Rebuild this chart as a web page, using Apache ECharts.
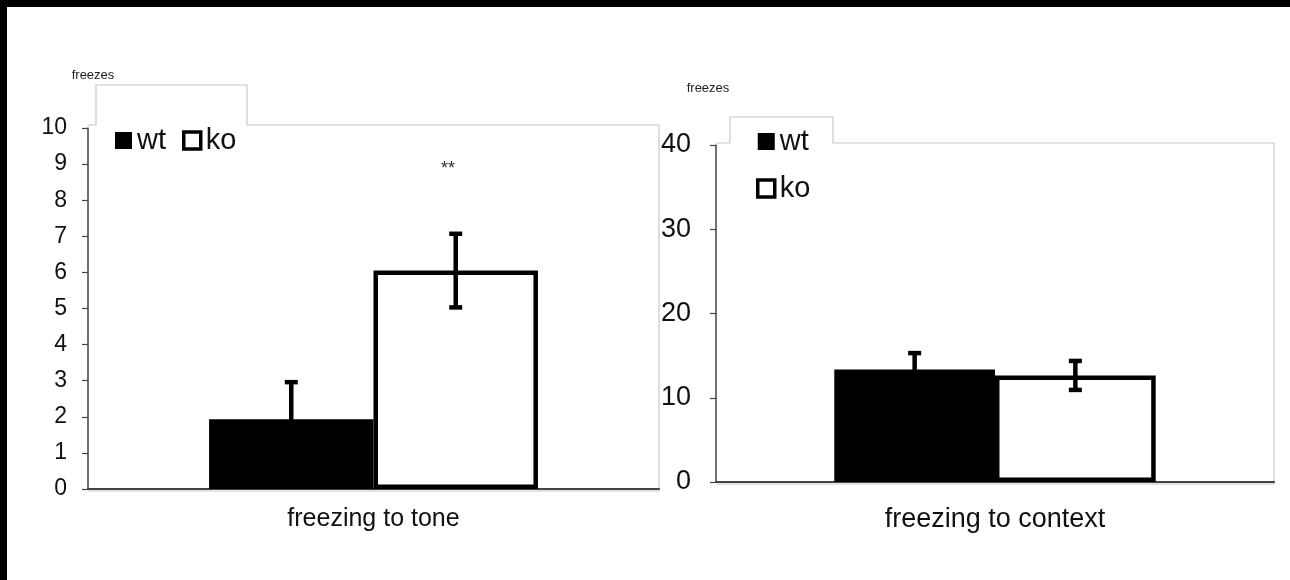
<!DOCTYPE html>
<html>
<head>
<meta charset="utf-8">
<script src="https://cdn.jsdelivr.net/npm/echarts@6/dist/echarts.min.js"></script>
<style>
html,body{margin:0;padding:0;background:#fff;overflow:hidden;}
#chart{position:absolute;left:0;top:0;width:1290px;height:580px;background:#fff;}
#bt{position:absolute;left:0;top:0;width:1290px;height:7px;background:#000;z-index:5;}
#bl{position:absolute;left:0;top:0;width:7px;height:580px;background:#000;z-index:5;}
</style>
</head>
<body>
<div id="chart"></div><div id="bt"></div><div id="bl"></div>
<script>
// ---- data ----
const groups = ['wt', 'ko'];
const toneCategories = ['freezing to tone'];
const contextCategories = ['freezing to context'];
const toneMeans = [1.93, 6.05];
const toneErrors = [1.03, 1.02];
const contextMeans = [13.35, 12.65];
const contextErrors = [1.95, 1.72];
const toneTicks = { min: 0, max: 10, interval: 1 };
const contextTicks = { min: 0, max: 40, interval: 10 };
const yName = 'freezes';
const significance = '**';

const FONT = '"Liberation Sans", Arial, sans-serif';
const BARFRAC = 0.288;
const BARW = (BARFRAC * 100) + '%';

const chart = echarts.init(document.getElementById('chart'), null, {renderer: 'canvas'});

function errSeries(name, xi, means, errs) {
  return {
    type: 'custom', name: name + '_err', xAxisIndex: xi, yAxisIndex: xi, z: 5,
    silent: true, legendHoverLink: false,
    data: means.map((m, i) => [0, m, errs[i], i]),
    renderItem: function (params, api) {
      const m = api.value(1), e = api.value(2), g = api.value(3);
      const band = api.size([1, 0])[0];
      const bw = band * BARFRAC;
      const c = api.coord([0, m]);
      const cx = c[0] + (g === 0 ? -bw / 2 : bw / 2);
      const top = api.coord([0, m + e])[1];
      const bot = api.coord([0, m - e])[1];
      const cap = 6.5;
      const st = {stroke: '#000', lineWidth: 4.5, fill: null};
      return {
        type: 'group', children: [
          {type: 'line', shape: {x1: cx, y1: top, x2: cx, y2: bot}, style: st},
          {type: 'line', shape: {x1: cx - cap, y1: top, x2: cx + cap, y2: top}, style: st},
          {type: 'line', shape: {x1: cx - cap, y1: bot, x2: cx + cap, y2: bot}, style: st}
        ]
      };
    }
  };
}

function barSeries(xi, means) {
  return [
    {type: 'bar', name: groups[0], xAxisIndex: xi, yAxisIndex: xi, barWidth: BARW, barGap: '0%',
      data: [means[0]], itemStyle: {color: '#000', borderColor: '#000', borderWidth: 0}, z: 2},
    {type: 'bar', name: groups[1], xAxisIndex: xi, yAxisIndex: xi, barWidth: BARW, barGap: '0%',
      data: [means[1]], itemStyle: {color: '#fff', borderColor: '#000', borderWidth: 4.5}, z: 3}
  ];
}

function yAx(gi, t, fs, gap, pad, margin) {
  return {
    type: 'value', gridIndex: gi, min: t.min, max: t.max, interval: t.interval,
    name: yName, nameLocation: 'end', nameGap: gap,
    nameTextStyle: {fontSize: 13, color: '#222', fontFamily: FONT, padding: pad},
    axisLine: {show: true, lineStyle: {color: '#444', width: 1.5}},
    axisTick: {show: true, length: 6, lineStyle: {color: '#444', width: 1.2}},
    splitLine: {show: false},
    axisLabel: {fontSize: fs, color: '#111', fontFamily: FONT, margin: margin}
  };
}

function xAx(gi, cats, fs, margin) {
  return {
    type: 'category', gridIndex: gi, data: cats,
    axisLine: {show: true, lineStyle: {color: '#444', width: 2}},
    axisTick: {show: false},
    axisLabel: {fontSize: fs, color: '#111', fontFamily: FONT, margin: margin}
  };
}

const legendItems = [
  {name: groups[0], itemStyle: {color: '#000', borderColor: '#000', borderWidth: 0}},
  {name: groups[1], itemStyle: {color: '#fff', borderColor: '#000', borderWidth: 3.5}}
];

const frameStyle = {stroke: '#c8c8c8', lineWidth: 1.2, fill: null};

chart.setOption({
  animation: false,
  backgroundColor: '#fff',
  grid: [
    {left: 88, top: 128, width: 571, height: 489 - 128},
    {left: 716, top: 145, width: 1274 - 716, height: 482 - 145}
  ],
  xAxis: [xAx(0, toneCategories, 25, 18), xAx(1, contextCategories, 27, 24)],
  yAxis: [yAx(0, toneTicks, 23, 46, [0, 0, 0, 10], 21), yAx(1, contextTicks, 27, 50, [0, 16, 0, 0], 25)],
  legend: [
    {data: legendItems, left: 115, top: 126, orient: 'horizontal', icon: 'rect',
      itemWidth: 17, itemHeight: 17, itemGap: 16, padding: 0, selectedMode: false,
      textStyle: {fontSize: 29, color: '#111', fontFamily: FONT}},
    {data: legendItems, left: 756, top: 127, orient: 'vertical', icon: 'rect',
      itemWidth: 17, itemHeight: 17, itemGap: 18, padding: 0, selectedMode: false,
      textStyle: {fontSize: 29, color: '#111', fontFamily: FONT}}
  ],
  graphic: [
    {type: 'polyline', z: 0, silent: true, shape: {points: [
      [88, 125], [96, 125], [96, 85], [247, 85],
      [247, 125], [659, 125], [659, 491], [88, 491]]},
      style: frameStyle},
    {type: 'polyline', z: 0, silent: true, shape: {points: [
      [716, 143], [730, 143], [730, 117], [833, 117],
      [833, 143], [1274, 143], [1274, 484], [716, 484]]},
      style: frameStyle},
    {type: 'text', left: 441, top: 160, silent: true,
      style: {text: significance, fontSize: 18, fill: '#333', fontFamily: FONT}}
  ],
  series: [
    ...barSeries(0, toneMeans),
    errSeries('tone', 0, toneMeans, toneErrors),
    ...barSeries(1, contextMeans),
    errSeries('context', 1, contextMeans, contextErrors)
  ]
});
</script>
</body>
</html>
